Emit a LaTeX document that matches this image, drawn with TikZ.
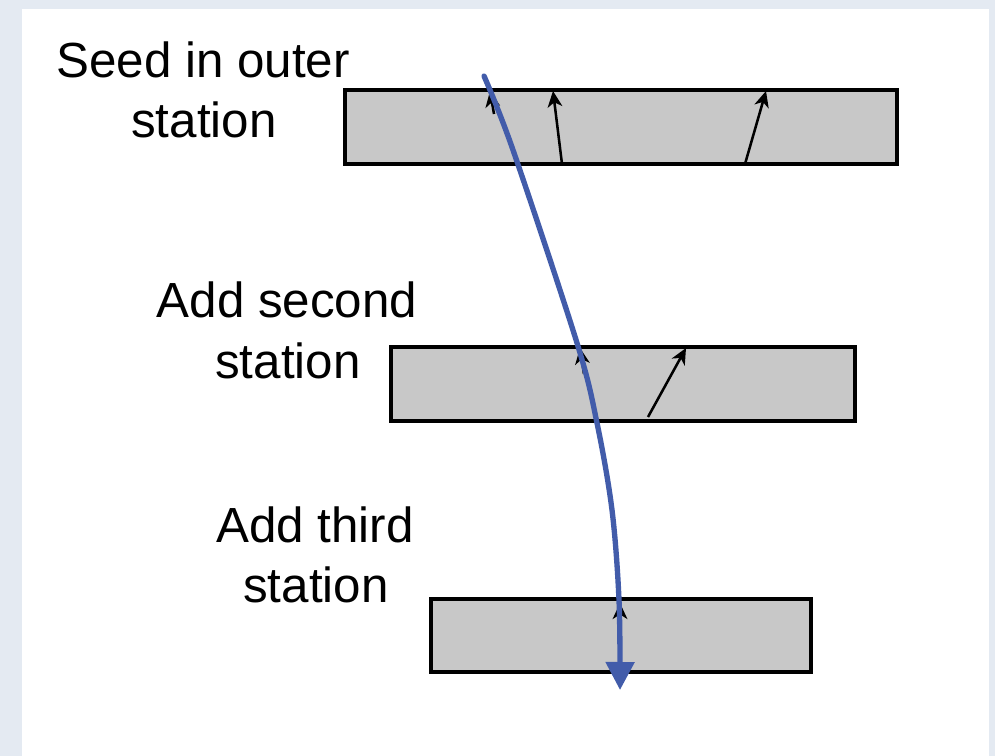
\documentclass[tikz,border=0pt]{standalone}
\usepackage{fontspec}
\setmainfont{Liberation Sans}
\usetikzlibrary{arrows.meta}
\definecolor{paper}{RGB}{228,234,242}
\definecolor{slab}{RGB}{200,200,200}
\definecolor{trackblue}{RGB}{66,92,170}
\begin{document}
\begin{tikzpicture}[x=0.75pt,y=-0.75pt,
  station/.style={draw=black,line width=3pt,fill=slab,inner sep=0pt,outer sep=0pt},
  caption/.style={anchor=base,inner sep=0pt,font=\fontsize{37}{45}\selectfont},
  hit/.style={draw=black,line width=1.9pt,-{Stealth[length=12pt,width=11pt,inset=3.5pt]}},
  track/.style={draw=trackblue,line width=4pt,line cap=round,
    -{Triangle[length=21pt,width=21pt]}}]
  % panel and surround
  \fill[paper] (0,0) rectangle (995,756);
  \fill[white] (22,9) rectangle (989,756);
  \useasboundingbox (0,0) rectangle (995,756);

  % detector stations
  \node[station,minimum width=414pt,minimum height=55.5pt] (s1) at (620.5,127) {};
  \node[station,minimum width=348pt,minimum height=55.5pt] (s2) at (622.5,384) {};
  \node[station,minimum width=285pt,minimum height=55pt] (s3) at (621,635.5) {};

  % labels
  \node[caption] (t1a) at (203,78) {Seed in outer};
  \node[caption] (t1b) at (204,138) {station};
  \node[caption] (t2a) at (287,317) {Add second};
  \node[caption] (t2b) at (288,378) {station};
  \node[caption] (t3a) at (315,542) {Add third};
  \node[caption] (t3b) at (316,602) {station};

  % hit directions in each station
  \draw[hit] (494,114) -- (490,91);
  \draw[hit] (562,164) -- (553,91);
  \draw[hit] (745,164) -- (766,91);
  \draw[hit] (584,374) -- (580,348);
  \draw[hit] (648,417) -- (686,348);
  \draw[hit] (620,630) -- (620,603);

  % reconstructed track
  \draw[track] plot[smooth,tension=0.55] coordinates
    {(484,76) (513,150) (577,343) (597,423) (612,510) (619,600) (620,690)};
\end{tikzpicture}
\end{document}
